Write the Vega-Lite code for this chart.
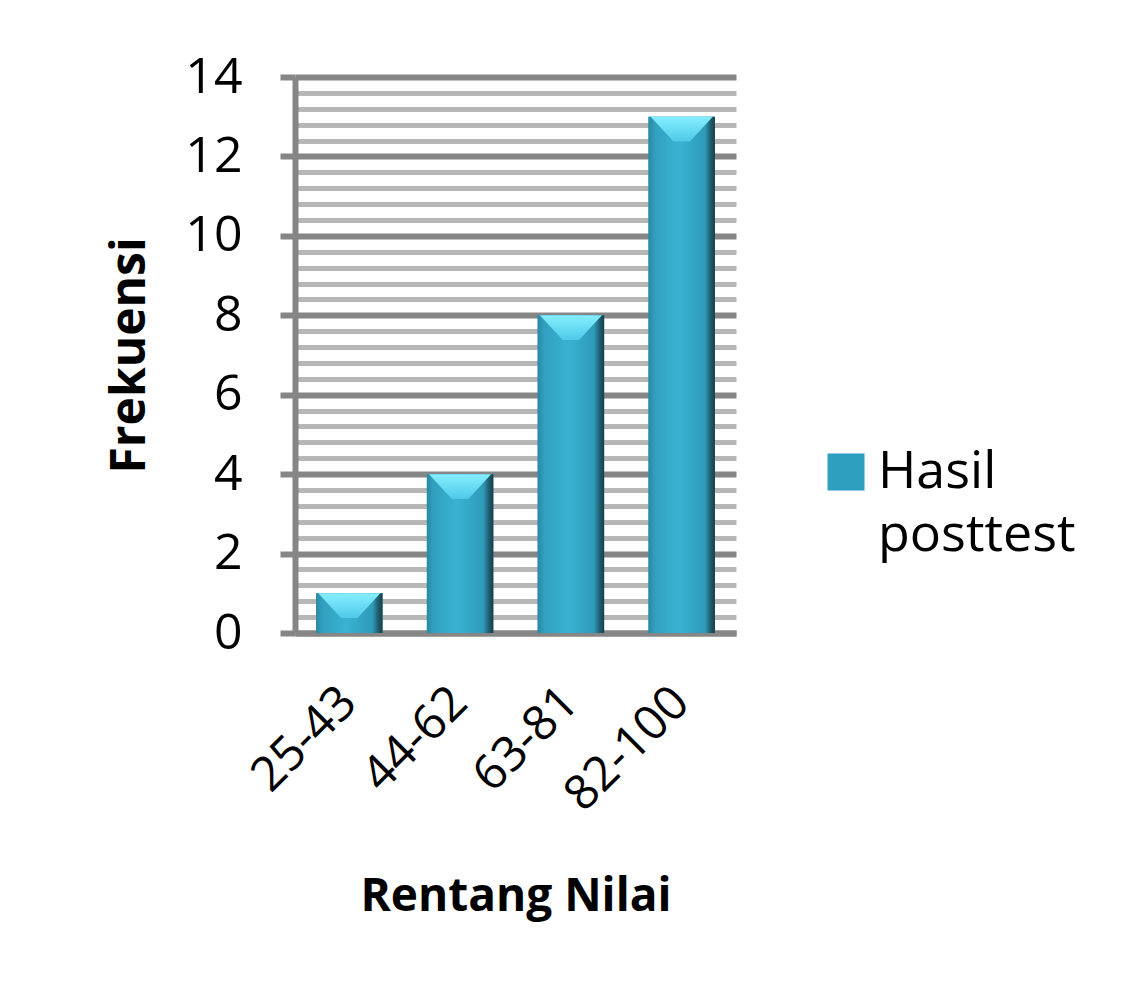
{
  "$schema": "https://vega.github.io/schema/vega-lite/v6.json",
  "autosize": "none",
  "width": 441,
  "height": 556,
  "padding": {"left": 295, "top": 77, "right": 398, "bottom": 366},
  "background": "white",
  "config": {
    "font": "Open Sans",
    "view": {"stroke": null},
    "style": {"guide-label": {"lineHeight": 63}}
  },
  "data": {
    "values": [
      {"range": "25-43", "freq": 1, "series": "Hasil posttest"},
      {"range": "44-62", "freq": 4, "series": "Hasil posttest"},
      {"range": "63-81", "freq": 8, "series": "Hasil posttest"},
      {"range": "82-100", "freq": 13, "series": "Hasil posttest"}
    ]
  },
  "encoding": {
    "x": {
      "field": "range", "type": "nominal", "sort": null,
      "scale": {"paddingInner": 0.4, "paddingOuter": 0.19},
      "axis": {
        "title": "Rentang Nilai", "titleFontSize": 46, "titleFontWeight": "bold", "titleColor": "black", "titlePadding": 55,
        "labelAngle": -45, "labelAlign": "right", "labelBaseline": "middle", "labelFontSize": 48, "labelColor": "black", "labelPadding": 62,
        "ticks": false, "domainColor": "#868686", "domainWidth": 6, "grid": false
      }
    },
    "y": {
      "field": "freq", "type": "quantitative",
      "scale": {"domain": [0, 14], "nice": false, "zero": true}
    }
  },
  "layer": [
    {
      "mark": {"type": "bar"},
      "encoding": {
        "y": {
          "field": "freq", "type": "quantitative",
          "axis": {
            "orient": "left",
            "values": [0.4,0.8,1.2,1.6,2.4,2.8,3.2,3.6,4.4,4.8,5.2,5.6,6.4,6.8,7.2,7.6,8.4,8.8,9.2,9.6,10.4,10.8,11.2,11.6,12.4,12.8,13.2,13.6],
            "grid": true, "gridColor": "#b7b7b7", "gridWidth": 5, "gridOpacity": 1,
            "labels": false, "ticks": false, "domain": false, "title": null
          }
        },
        "color": {
          "field": "series", "type": "nominal",
          "scale": {"range": ["#2f9fbf"]},
          "legend": {
            "orient": "none", "legendX": 525, "legendY": 369,
            "title": null, "symbolType": "square", "symbolSize": 1369, "symbolStrokeWidth": 0,
            "labelFontSize": 52, "labelColor": "black", "labelOffset": 6, "labelLimit": 400,
            "labelExpr": "['Hasil', 'posttest']"
          }
        }
      }
    },
    {
      "mark": {
        "type": "bar",
        "fill": {
          "gradient": "linear", "x1": 0, "x2": 1, "y1": 0, "y2": 0,
          "stops": [
            {"offset": 0, "color": "#2a88a3"},
            {"offset": 0.1, "color": "#31a0be"},
            {"offset": 0.45, "color": "#39b2d2"},
            {"offset": 0.85, "color": "#2e9ab8"},
            {"offset": 0.93, "color": "#205f70"},
            {"offset": 1, "color": "#173e49"}
          ]
        }
      },
      "encoding": {
        "y": {
          "field": "freq", "type": "quantitative",
          "axis": {
            "orient": "left",
            "values": [0, 2, 4, 6, 8, 10, 12, 14],
            "grid": true, "gridColor": "#868686", "gridWidth": 6, "gridOpacity": 1,
            "ticks": true, "tickSize": 15, "tickWidth": 6, "tickColor": "#868686",
            "domain": true, "domainColor": "#868686", "domainWidth": 6,
            "labelFontSize": 50, "labelColor": "black", "labelPadding": 38,
            "title": "Frekuensi", "titleFontSize": 48, "titleFontWeight": "bold", "titleColor": "black", "titlePadding": 30
          }
        }
      }
    },
    {
      "mark": {
        "type": "point", "filled": true, "opacity": 1, "strokeWidth": 0,
        "shape": "M-0.94,0L0.94,0L0.25,0.75L-0.25,0.75Z",
        "size": 4356,
        "fill": {
          "gradient": "linear", "x1": 0, "x2": 0, "y1": 0, "y2": 1,
          "stops": [
            {"offset": 0, "color": "#86eeff"},
            {"offset": 1, "color": "#4ec9e8"}
          ]
        }
      },
      "encoding": {
        "y": {"field": "freq", "type": "quantitative", "axis": null}
      }
    }
  ],
  "resolve": {"axis": {"y": "independent"}}
}
